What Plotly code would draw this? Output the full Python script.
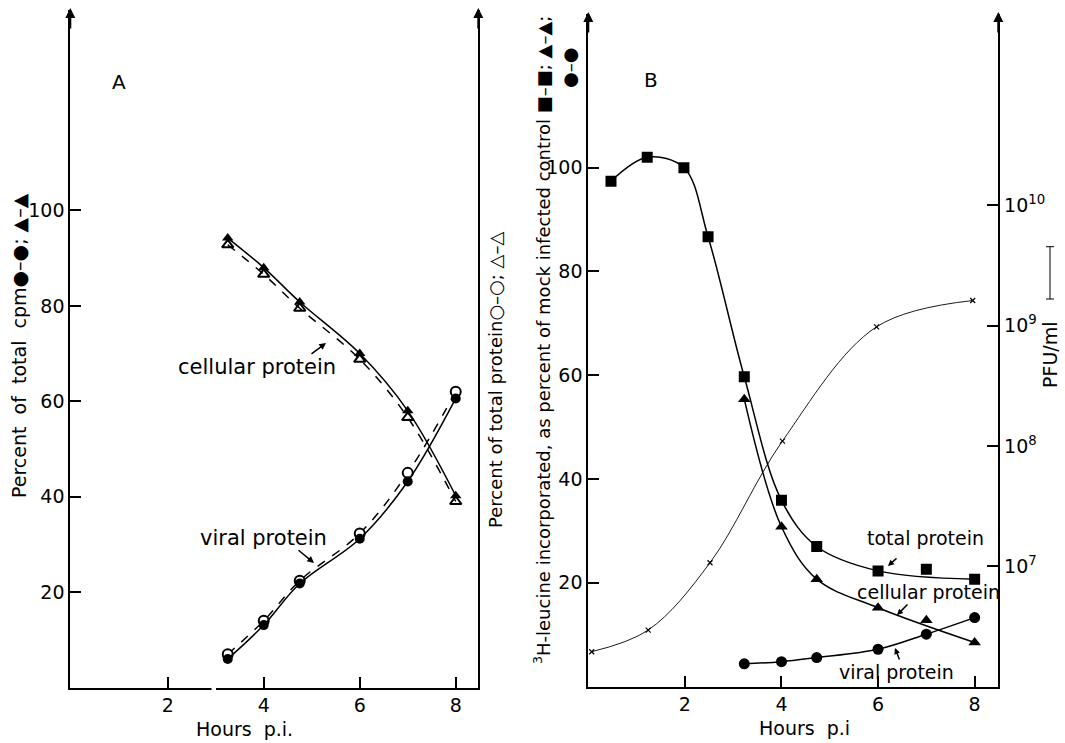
import plotly.graph_objects as go

W, H = 1065, 743
FONT = "DejaVu Sans"

# ---------------- Panel A data ----------------
hours_a = [3.25, 4.0, 4.75, 6.0, 7.0, 8.0]
cell_cpm_a = [94.2, 88.0, 80.8, 70.0, 58.0, 40.2]       # filled triangles (solid)
cell_prot_a = [92.8, 86.6, 79.5, 68.8, 56.6, 39.0]      # open triangles (dashed)
viral_cpm_a = [6.0, 13.1, 21.8, 31.2, 43.2, 60.6]       # filled circles (solid)
viral_prot_a = [7.0, 14.0, 22.4, 32.3, 45.0, 62.0]      # open circles (dashed)

# ---------------- Panel B data ----------------
hours_total_b = [0.47, 1.22, 1.98, 2.48, 3.23, 4.0, 4.73, 6.0, 7.0, 8.0]
total_b = [97.4, 102.0, 100.0, 86.7, 59.7, 35.9, 27.0, 22.3, 22.6, 20.7]
hours_cv_b = [3.23, 4.0, 4.73, 6.0, 7.0, 8.0]
cellular_b = [55.4, 30.8, 20.7, 15.2, 12.8, 8.5]
viral_b = [4.4, 4.8, 5.6, 7.2, 10.1, 13.3]
hours_pfu = [0.07, 1.24, 2.52, 4.02, 5.97, 7.96]
pfu = [1.95e6, 2.95e6, 1.07e7, 1.10e8, 9.8e8, 1.62e9]

x_ticks = [2, 4, 6, 8]
y_ticks = [20, 40, 60, 80, 100]
pfu_ticks = [1e7, 1e8, 1e9, 1e10]
pfu_ticktext = ["10<sup>7</sup>", "10<sup>8</sup>", "10<sup>9</sup>", "10<sup>10</sup>"]


def px(x):
    return x / W


def py(y):
    return 1 - y / H


fig = go.Figure()

LW = 1.5
# Panel A curves
fig.add_trace(go.Scatter(x=hours_a, y=cell_prot_a, mode="lines+markers", line=dict(color="black", width=LW, dash="dash", shape="spline"),
                         marker=dict(symbol="triangle-up-open", size=10, color="black", line=dict(width=2)), xaxis="x", yaxis="y"))
fig.add_trace(go.Scatter(x=hours_a, y=cell_cpm_a, mode="lines+markers", line=dict(color="black", width=LW, shape="spline"),
                         marker=dict(symbol="triangle-up", size=10, color="black"), xaxis="x", yaxis="y"))
fig.add_trace(go.Scatter(x=hours_a, y=viral_prot_a, mode="lines+markers", line=dict(color="black", width=LW, dash="dash", shape="spline"),
                         marker=dict(symbol="circle", size=10, color="white", line=dict(color="black", width=2)), xaxis="x", yaxis="y"))
fig.add_trace(go.Scatter(x=hours_a, y=viral_cpm_a, mode="lines+markers", line=dict(color="black", width=LW, shape="spline"),
                         marker=dict(symbol="circle", size=10, color="black"), xaxis="x", yaxis="y"))

# Panel B: PFU curve (log right axis)
fig.add_trace(go.Scatter(x=hours_pfu, y=pfu, mode="lines+markers", line=dict(color="black", width=0.9, shape="spline"),
                         marker=dict(symbol="x-thin", size=5, color="black", line=dict(width=1.2, color="black")),
                         xaxis="x2", yaxis="y4"))

# fitted curves (7 h points lie off the curves in the original)
tot_x = [h for h in hours_total_b if h != 7.0]
tot_y = [v for h, v in zip(hours_total_b, total_b) if h != 7.0]
cel_x = [h for h in hours_cv_b if h != 7.0]
cel_y = [v for h, v in zip(hours_cv_b, cellular_b) if h != 7.0]

fig.add_trace(go.Scatter(x=tot_x, y=tot_y, mode="lines", line=dict(color="black", width=LW, shape="spline", smoothing=1.0),
                         xaxis="x2", yaxis="y3"))
fig.add_trace(go.Scatter(x=cel_x, y=cel_y, mode="lines", line=dict(color="black", width=LW, shape="spline", smoothing=1.0),
                         xaxis="x2", yaxis="y3"))
fig.add_trace(go.Scatter(x=hours_cv_b, y=viral_b, mode="lines", line=dict(color="black", width=LW, shape="spline"),
                         xaxis="x2", yaxis="y3"))
fig.add_trace(go.Scatter(x=hours_total_b, y=total_b, mode="markers", marker=dict(symbol="square", size=11, color="black"),
                         xaxis="x2", yaxis="y3"))
fig.add_trace(go.Scatter(x=hours_cv_b, y=cellular_b, mode="markers", marker=dict(symbol="triangle-up", size=11, color="black"),
                         xaxis="x2", yaxis="y3"))
fig.add_trace(go.Scatter(x=hours_cv_b, y=viral_b, mode="markers", marker=dict(symbol="circle", size=11, color="black"),
                         xaxis="x2", yaxis="y3"))

tickfont = dict(family=FONT, size=19, color="black")
axis_common = dict(showline=True, linecolor="black", linewidth=2, ticks="inside", ticklen=11, tickwidth=2,
                   tickcolor="black", showgrid=False, zeroline=False, tickfont=tickfont)

fig.update_layout(
    width=W, height=H, margin=dict(l=0, r=0, t=0, b=0),
    paper_bgcolor="white", plot_bgcolor="white", showlegend=False,
    xaxis=dict(domain=[px(70.3), px(478.3)], range=[-0.03, 8.47], tickvals=x_ticks, anchor="y", **axis_common),
    yaxis=dict(domain=[py(687.6), py(10)], range=[0, 142.0], tickvals=y_ticks, anchor="x", mirror=True, **axis_common),
    xaxis2=dict(domain=[px(588.3), px(998.3)], range=[0, 8.49], tickvals=x_ticks, anchor="y3", **axis_common),
    yaxis3=dict(domain=[py(686.6), py(13.6)], range=[0, 129.7], tickvals=y_ticks, anchor="x2", **axis_common),
    yaxis4=dict(overlaying="y3", side="right", anchor="x2", type="log", range=[6.0, 11.595],
                tickvals=pfu_ticks, ticktext=pfu_ticktext, **axis_common),
)

ann = []


def text(x, y, s, size=19, angle=0, xanchor="center"):
    ann.append(dict(x=px(x), y=py(y), xref="paper", yref="paper", text=s, showarrow=False, textangle=angle,
                    xanchor=xanchor, yanchor="middle", font=dict(family=FONT, size=size, color="black")))


def arrow(hx, hy, tx, ty, size=1.0, width=1.5):
    ann.append(dict(x=px(hx), y=py(hy), xref="paper", yref="paper", text="", showarrow=True,
                    ax=tx - hx, ay=ty - hy, arrowhead=2, arrowsize=size, arrowwidth=width, arrowcolor="black"))


# Panel labels
text(119, 82, "A", 20)
text(651, 80, "B", 20)

# Panel A texts
text(257, 367, "cellular protein", 21)
arrow(326, 343, 310, 355, 0.9)
text(263, 538, "viral protein", 21)
arrow(314, 563, 297, 549, 0.9)

# Panel B texts
text(925, 538, "total protein", 19)
arrow(888, 566, 898, 557, 0.8)
text(928, 592, "cellular protein", 19)
arrow(897, 615, 909, 603, 0.8)
text(896, 672, "viral protein", 19)
arrow(895, 648, 900, 661, 0.8)

# Axis titles
text(244, 729, "Hours  p.i.", 19)
text(804, 728, "Hours  p.i", 19)
text(19, 346, "Percent  of  total  cpm●–●; ▲–▲", 19, -90)
text(495, 380, "Percent of total protein○–○; △–△", 18, -90)
text(542, 340, "<sup>3</sup>H-leucine incorporated, as percent of mock infected control ■–■; ▲–▲;", 18, -90)
text(570, 68, "●–●", 18, -90)
text(1050, 355, "PFU/ml", 19, -90)

# Axis top arrows
for (ax_x, ax_y) in [(70.3, 8), (478.3, 8), (588.3, 12), (998.3, 12)]:
    arrow(ax_x, ax_y, ax_x, ax_y + 22, 1.0, 2)

fig.update_layout(annotations=ann)

# scale bar beside PFU axis, and the break in panel A's baseline
fig.add_shape(type="line", xref="paper", yref="paper", x0=px(1050), x1=px(1050), y0=py(246.7), y1=py(299),
              line=dict(color="black", width=1))
for yb in (246.7, 299):
    fig.add_shape(type="line", xref="paper", yref="paper", x0=px(1046), x1=px(1054), y0=py(yb), y1=py(yb),
                  line=dict(color="black", width=1))
fig.add_shape(type="rect", xref="paper", yref="paper", x0=px(211.5), x1=px(216), y0=py(691), y1=py(684),
              fillcolor="white", line=dict(width=0), layer="above")

fig.write_html("out.html")
